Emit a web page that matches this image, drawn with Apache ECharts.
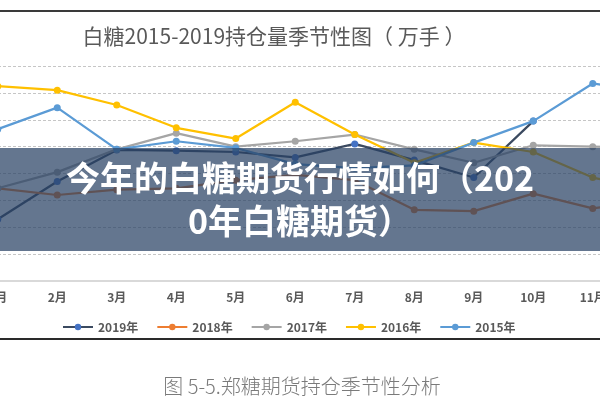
<!DOCTYPE html>
<html><head><meta charset="utf-8">
<script src="https://cdn.jsdelivr.net/npm/echarts@6/dist/echarts.min.js"></script>
<style>html,body{margin:0;padding:0;background:#fff;overflow:hidden;width:600px;height:400px}#c{position:absolute;left:-32px;top:0;width:714px;height:400px}</style>
</head><body><div id="c"></div>
<script>
const months = ['1月','2月','3月','4月','5月','6月','7月','8月','9月','10月','11月','12月'];
const seriesNames = ['2019年','2018年','2017年','2016年','2015年'];
const v2019 = [46, 74, 97.5, 97, 96, 92, 102, 90, 77, 119, null, null];
const v2018 = [69, 64, 68, 69, 75, 79, 75, 53, 52, 65, 54, 60];
const v2017 = [69, 81, 98, 110, 100, 104, 109, 98, 88, 101, 100, 99];
const v2016 = [145, 142, 131, 114, 106, 133, 109, 88, 103, 96, 77, 68];
const v2015 = [113, 129, 98, 104, 99, 87, 84, 86, 103, 119, 147, 140];
const chartTitle = '白糖2015-2019持仓量季节性图（ 万手 ）';
const bannerText = '今年的白糖期货行情如何（202\n0年白糖期货）';
const captionText = '图 5-5.郑糖期货持仓季节性分析';

const values = [v2019, v2018, v2017, v2016, v2015];
const lineColors = ['#3b4a60', '#ED7D31', '#A5A5A5', '#FFC000', '#5B9BD5'];
const dotColors = ['#4472C4', '#ED7D31', '#A5A5A5', '#FFC000', '#5B9BD5'];
const FONT = '"Noto Sans CJK SC", sans-serif';
const OX = 32; // offset of the visible window inside the wider canvas

const chart = echarts.init(document.getElementById('c'), null, {renderer: 'canvas'});
chart.setOption({
  animation: false,
  textStyle: {fontFamily: FONT},
  grid: {left: 0, right: 0, top: 66, bottom: 119, containLabel: false},
  xAxis: {
    type: 'category', data: months, boundaryGap: true,
    axisLine: {lineStyle: {color: '#d9d9d9', width: 2}},
    axisTick: {show: false},
    axisLabel: {color: '#595959', fontSize: 12, fontWeight: 'bold', margin: 10, fontFamily: FONT}
  },
  yAxis: {
    type: 'value', min: 0, max: 160, interval: 20,
    axisLabel: {show: false}, axisLine: {show: false}, axisTick: {show: false},
    splitLine: {lineStyle: {color: '#c6c6c6', type: [3, 2], width: 1}}
  },
  legend: {
    data: seriesNames, left: 57 + OX, top: 316, itemWidth: 30, itemHeight: 8, itemGap: 18,
    textStyle: {color: '#595959', fontSize: 12, fontWeight: 'bold', fontFamily: FONT}
  },
  series: seriesNames.map((n, i) => ({
    name: n, type: 'line', data: values[i], symbol: 'circle', symbolSize: 7,
    lineStyle: {color: lineColors[i], width: 2.25},
    itemStyle: {color: dotColors[i]},
    z: 2 + i
  })),
  graphic: [
    {type: 'line', shape: {x1: 0, y1: 11, x2: 714, y2: 11}, style: {stroke: '#3a3a3a', lineWidth: 2}, z: 10},
    {type: 'line', shape: {x1: 0, y1: 339, x2: 714, y2: 339}, style: {stroke: '#2a2a2a', lineWidth: 2}, z: 10},
    {type: 'text', x: 274 + OX, y: 36, style: {text: chartTitle, fill: '#595959', font: '21px ' + FONT, textAlign: 'center', textVerticalAlign: 'middle'}, z: 10},
    {type: 'text', x: 302 + OX, y: 386, style: {text: captionText, fill: '#7a7a7a', font: '300 20px ' + FONT, textAlign: 'center', textVerticalAlign: 'middle'}, z: 10},
    {type: 'rect', shape: {x: 0, y: 148, width: 714, height: 103}, style: {fill: 'rgba(40,65,100,0.72)'}, z: 20},
    {type: 'text', x: 300 + OX, y: 200, style: {text: bannerText, fill: '#ffffff', font: 'bold 34px ' + FONT, textAlign: 'center', textVerticalAlign: 'middle', lineHeight: 43}, z: 21}
  ]
});
</script></body></html>
